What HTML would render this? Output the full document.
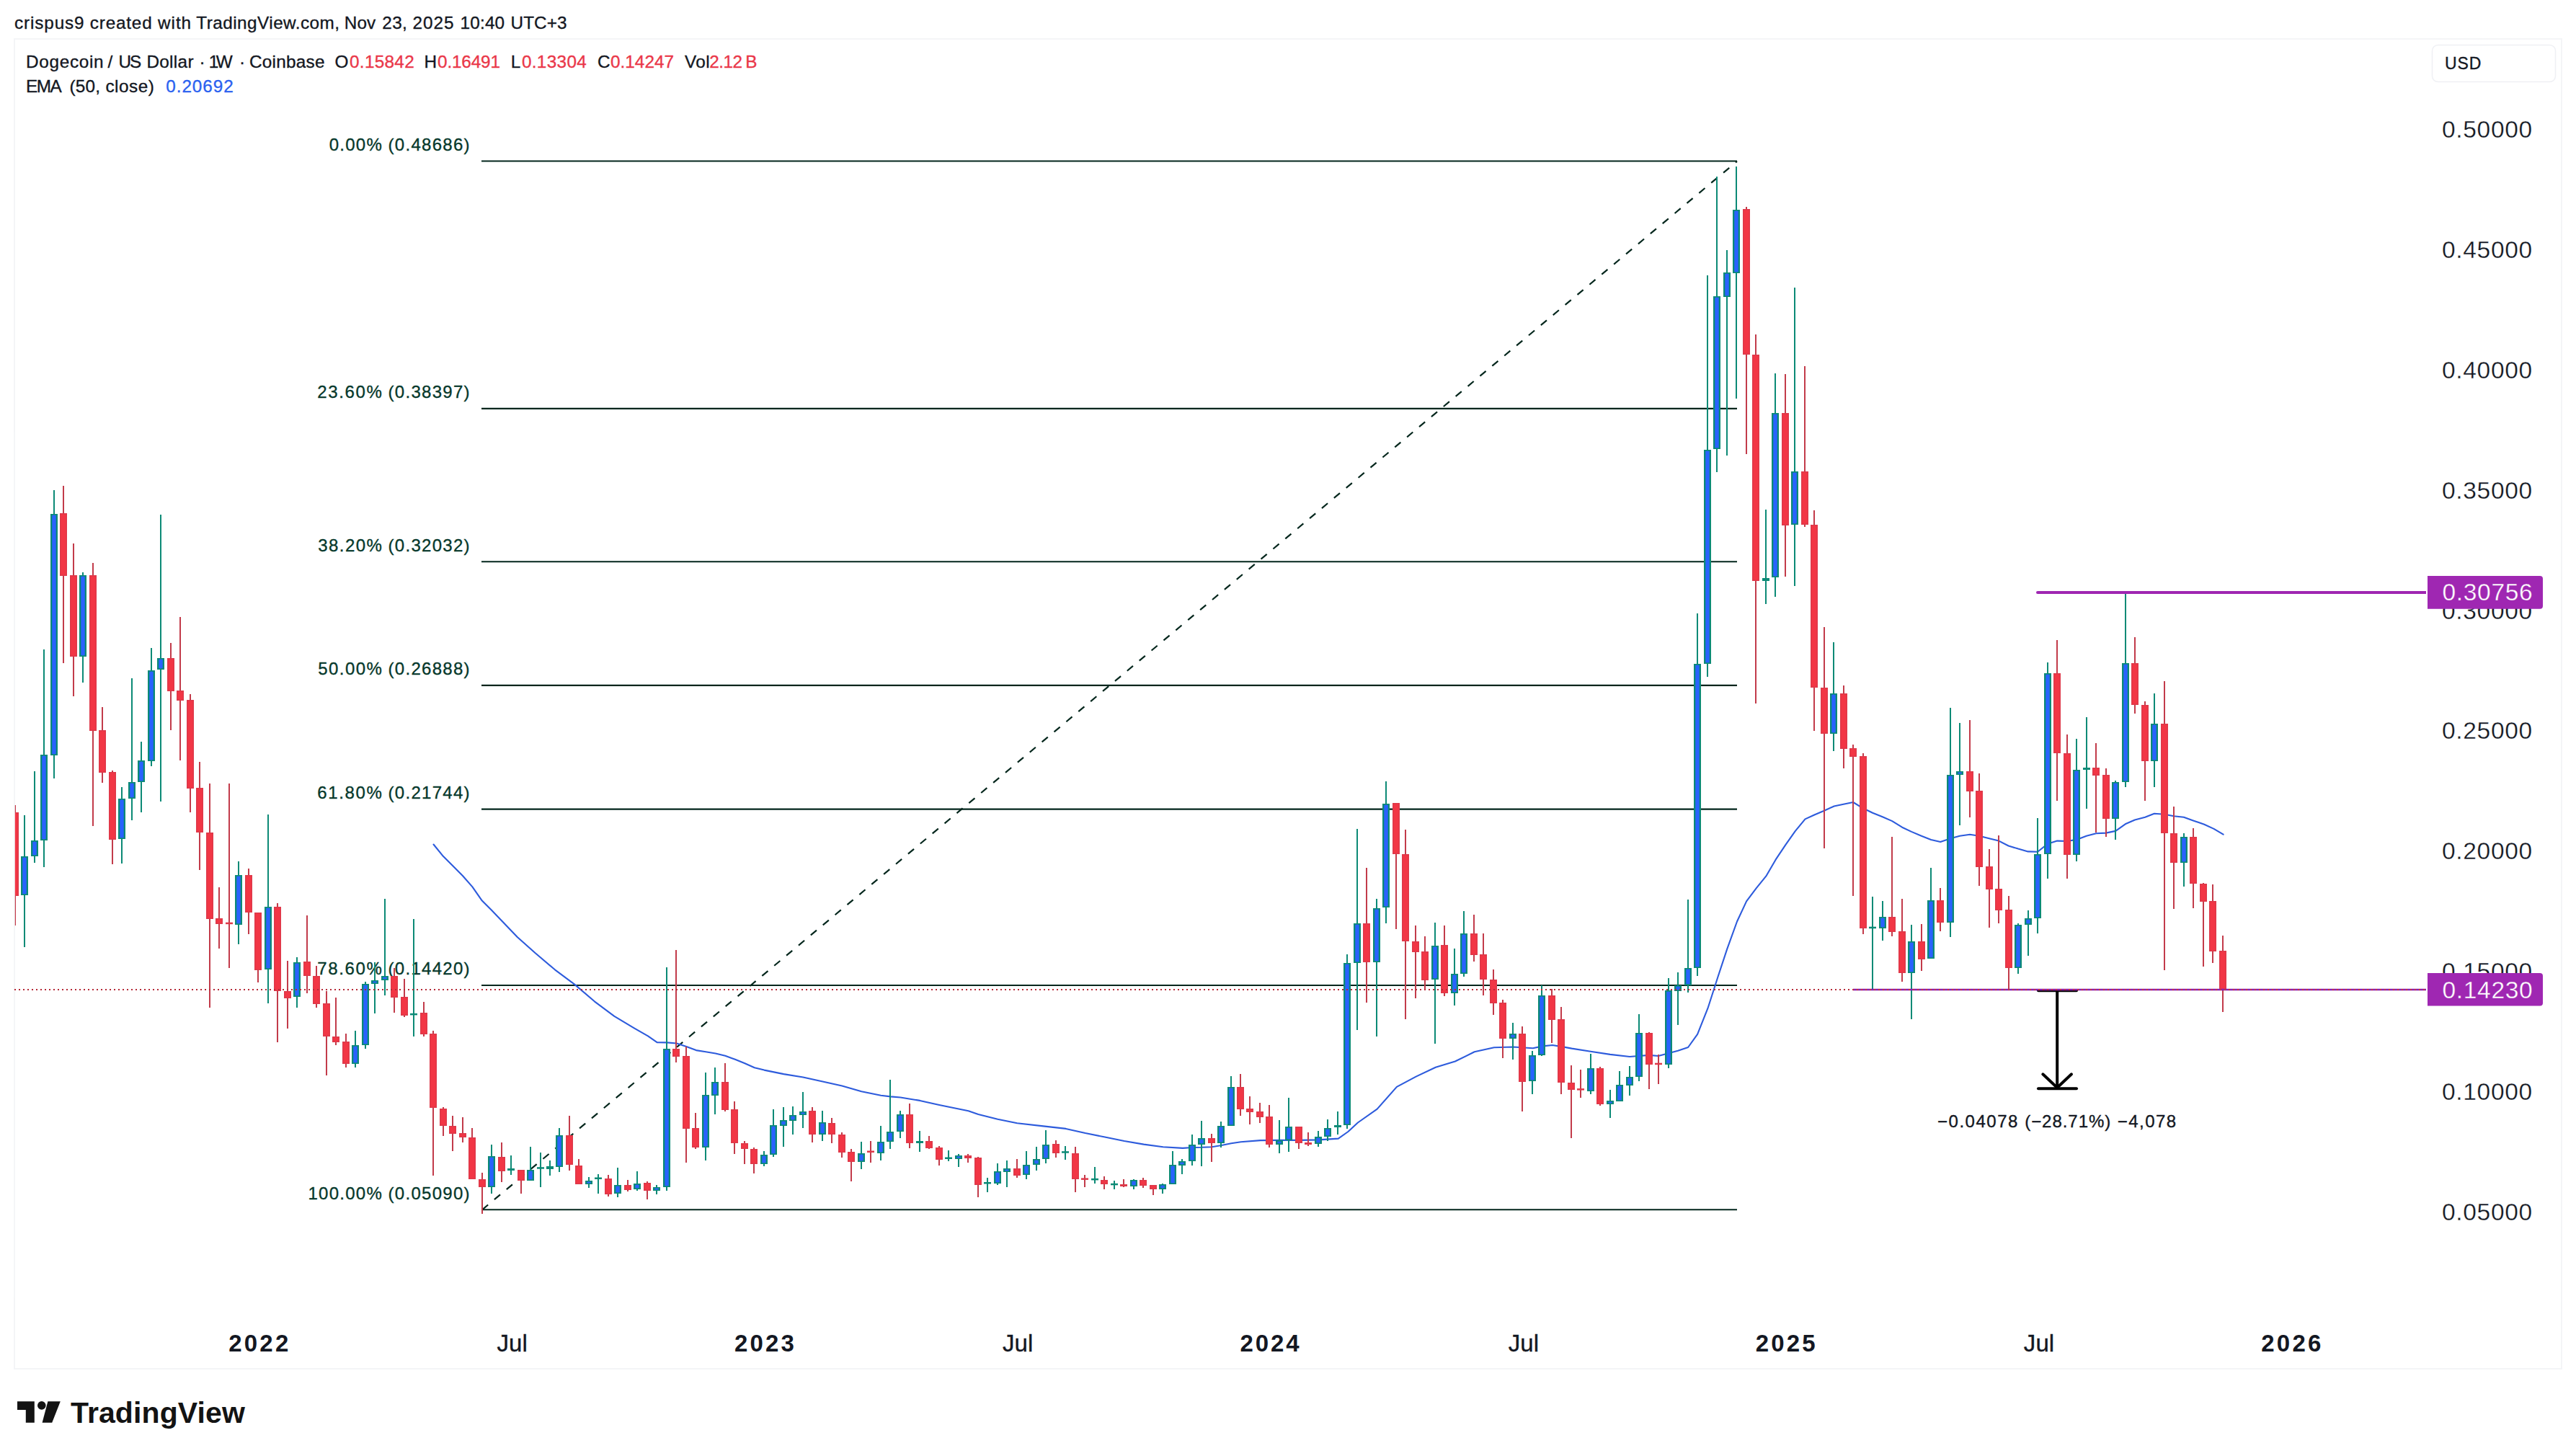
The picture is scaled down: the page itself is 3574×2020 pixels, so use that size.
<!DOCTYPE html>
<html lang="en"><head><meta charset="utf-8"><title>DOGEUSD chart</title>
<style>html,body{margin:0;padding:0;background:#fff}body{width:3574px;height:2020px;overflow:hidden}svg{display:block}</style>
</head><body>
<svg width="3574" height="2020" viewBox="0 0 3574 2020" font-family='"Liberation Sans", sans-serif'>
<rect width="3574" height="2020" fill="#ffffff"/>
<rect x="20" y="54" width="3534" height="1845" fill="none" stroke="#f4f5f7" stroke-width="2"/>
<text x="20.00" y="39.7" font-size="24.3" fill="#131722" stroke="#131722" stroke-width="0.35" letter-spacing="0.877">crispus9</text>
<text x="124.80" y="39.7" font-size="24.3" fill="#131722" stroke="#131722" stroke-width="0.35" letter-spacing="0.812">created</text>
<text x="219.00" y="39.7" font-size="24.3" fill="#131722" stroke="#131722" stroke-width="0.35" letter-spacing="0.968">with</text>
<text x="272.30" y="39.7" font-size="24.3" fill="#131722" stroke="#131722" stroke-width="0.35" letter-spacing="0.466">TradingView.com,</text>
<text x="477.80" y="39.7" font-size="24.3" fill="#131722" stroke="#131722" stroke-width="0.35" letter-spacing="0.070">Nov</text>
<text x="530.30" y="39.7" font-size="24.3" fill="#131722" stroke="#131722" stroke-width="0.35" letter-spacing="0.337">23,</text>
<text x="572.50" y="39.7" font-size="24.3" fill="#131722" stroke="#131722" stroke-width="0.35" letter-spacing="0.987">2025</text>
<text x="638.50" y="39.7" font-size="24.3" fill="#131722" stroke="#131722" stroke-width="0.35" letter-spacing="0.203">10:40</text>
<text x="708.50" y="39.7" font-size="24.3" fill="#131722" stroke="#131722" stroke-width="0.35" letter-spacing="0.094">UTC+3</text>
<text x="36.10" y="93.8" font-size="24.3" fill="#131722" stroke="#131722" stroke-width="0.35" letter-spacing="0.679">Dogecoin</text>
<text x="149.60" y="93.8" font-size="24.3" fill="#131722" stroke="#131722" stroke-width="0.35">/</text>
<text x="164.40" y="93.8" font-size="24.3" fill="#131722" stroke="#131722" stroke-width="0.35" letter-spacing="-1.846">US</text>
<text x="203.40" y="93.8" font-size="24.3" fill="#131722" stroke="#131722" stroke-width="0.35" letter-spacing="0.326">Dollar</text>
<text x="276.60" y="93.8" font-size="24.3" fill="#131722" stroke="#131722" stroke-width="0.35">·</text>
<text x="289.80" y="93.8" font-size="24.3" fill="#131722" stroke="#131722" stroke-width="0.35" letter-spacing="-3.513">1W</text>
<text x="332.00" y="93.8" font-size="24.3" fill="#131722" stroke="#131722" stroke-width="0.35">·</text>
<text x="346.00" y="93.8" font-size="24.3" fill="#131722" stroke="#131722" stroke-width="0.35" letter-spacing="0.265">Coinbase</text>
<text x="464.50" y="93.8" font-size="24.3" fill="#131722" stroke="#131722" stroke-width="0.35">O</text>
<text x="485.00" y="93.8" font-size="24.3" fill="#ea3749" stroke="#ea3749" stroke-width="0.35" letter-spacing="0.314">0.15842</text>
<text x="588.60" y="93.8" font-size="24.3" fill="#131722" stroke="#131722" stroke-width="0.35">H</text>
<text x="607.10" y="93.8" font-size="24.3" fill="#ea3749" stroke="#ea3749" stroke-width="0.35" letter-spacing="-0.169">0.16491</text>
<text x="708.80" y="93.8" font-size="24.3" fill="#131722" stroke="#131722" stroke-width="0.35">L</text>
<text x="723.90" y="93.8" font-size="24.3" fill="#ea3749" stroke="#ea3749" stroke-width="0.35" letter-spacing="0.348">0.13304</text>
<text x="829.00" y="93.8" font-size="24.3" fill="#131722" stroke="#131722" stroke-width="0.35">C</text>
<text x="847.10" y="93.8" font-size="24.3" fill="#ea3749" stroke="#ea3749" stroke-width="0.35">0.14247</text>
<text x="950.00" y="93.8" font-size="24.3" fill="#131722" stroke="#131722" stroke-width="0.35" letter-spacing="0.411">Vol</text>
<text x="984.30" y="93.8" font-size="24.3" fill="#ea3749" stroke="#ea3749" stroke-width="0.35" letter-spacing="-0.559">2.12</text>
<text x="1034.30" y="93.8" font-size="24.3" fill="#ea3749" stroke="#ea3749" stroke-width="0.35">B</text>
<text x="36.10" y="127.7" font-size="24.3" fill="#131722" stroke="#131722" stroke-width="0.35" letter-spacing="-1.573">EMA</text>
<text x="96.50" y="127.7" font-size="24.3" fill="#131722" stroke="#131722" stroke-width="0.35" letter-spacing="0.194">(50,</text>
<text x="146.40" y="127.7" font-size="24.3" fill="#131722" stroke="#131722" stroke-width="0.35" letter-spacing="0.516">close)</text>
<text x="230.30" y="127.7" font-size="24.3" fill="#2b62f0" stroke="#2b62f0" stroke-width="0.35" letter-spacing="0.931">0.20692</text>
<rect x="3374.5" y="62.5" width="171" height="51" rx="8" fill="#ffffff" stroke="#eff0f4" stroke-width="1.5"/>
<text x="3392.10" y="95.6" font-size="23" fill="#131722" stroke="#131722" stroke-width="0.35" letter-spacing="0.825">USD</text>
<text x="3388.00" y="191.1" font-size="33.5" fill="#131722" stroke="#ffffff" stroke-width="0.3" letter-spacing="0.673">0.50000</text>
<text x="3388.00" y="357.9" font-size="33.5" fill="#131722" stroke="#ffffff" stroke-width="0.3" letter-spacing="0.673">0.45000</text>
<text x="3388.00" y="524.8" font-size="33.5" fill="#131722" stroke="#ffffff" stroke-width="0.3" letter-spacing="0.673">0.40000</text>
<text x="3388.00" y="691.6" font-size="33.5" fill="#131722" stroke="#ffffff" stroke-width="0.3" letter-spacing="0.673">0.35000</text>
<text x="3388.00" y="858.5" font-size="33.5" fill="#131722" stroke="#ffffff" stroke-width="0.3" letter-spacing="0.673">0.30000</text>
<text x="3388.00" y="1025.4" font-size="33.5" fill="#131722" stroke="#ffffff" stroke-width="0.3" letter-spacing="0.673">0.25000</text>
<text x="3388.00" y="1192.2" font-size="33.5" fill="#131722" stroke="#ffffff" stroke-width="0.3" letter-spacing="0.673">0.20000</text>
<text x="3388.00" y="1359.1" font-size="33.5" fill="#131722" stroke="#ffffff" stroke-width="0.3" letter-spacing="0.673">0.15000</text>
<text x="3388.00" y="1525.9" font-size="33.5" fill="#131722" stroke="#ffffff" stroke-width="0.3" letter-spacing="0.673">0.10000</text>
<text x="3388.00" y="1692.8" font-size="33.5" fill="#131722" stroke="#ffffff" stroke-width="0.3" letter-spacing="0.673">0.05000</text>
<text x="317.30" y="1875.2" font-size="33" fill="#131722" font-weight="bold" letter-spacing="3.180">2022</text>
<text x="689.42" y="1875.2" font-size="33" fill="#131722" stroke="#131722" stroke-width="0.35" letter-spacing="0.073">Jul</text>
<text x="1018.94" y="1875.2" font-size="33" fill="#131722" font-weight="bold" letter-spacing="3.180">2023</text>
<text x="1391.06" y="1875.2" font-size="33" fill="#131722" stroke="#131722" stroke-width="0.35" letter-spacing="0.073">Jul</text>
<text x="1720.58" y="1875.2" font-size="33" fill="#131722" font-weight="bold" letter-spacing="2.847">2024</text>
<text x="2092.70" y="1875.2" font-size="33" fill="#131722" stroke="#131722" stroke-width="0.35" letter-spacing="0.073">Jul</text>
<text x="2435.71" y="1875.2" font-size="33" fill="#131722" font-weight="bold" letter-spacing="3.180">2025</text>
<text x="2807.82" y="1875.2" font-size="33" fill="#131722" stroke="#131722" stroke-width="0.35" letter-spacing="0.073">Jul</text>
<text x="3137.34" y="1875.2" font-size="33" fill="#131722" font-weight="bold" letter-spacing="3.180">2026</text>
<line x1="668" y1="223.5" x2="2410" y2="223.5" stroke="#03261c" stroke-width="2.1"/>
<line x1="668" y1="566.9" x2="2410" y2="566.9" stroke="#03261c" stroke-width="2.1"/>
<line x1="668" y1="779.3" x2="2410" y2="779.3" stroke="#03261c" stroke-width="2.1"/>
<line x1="668" y1="950.9" x2="2410" y2="950.9" stroke="#03261c" stroke-width="2.1"/>
<line x1="668" y1="1122.6" x2="2410" y2="1122.6" stroke="#03261c" stroke-width="2.1"/>
<line x1="668" y1="1367.0" x2="2410" y2="1367.0" stroke="#03261c" stroke-width="2.1"/>
<line x1="668" y1="1678.3" x2="2410" y2="1678.3" stroke="#03261c" stroke-width="2.1"/>
<line x1="669.0" y1="1678.3" x2="2410" y2="223.8" stroke="#03261c" stroke-width="2.2" stroke-dasharray="10.6 11.4"/>
<text x="456.70" y="208.9" font-size="24" fill="#06382b" stroke="#06382b" stroke-width="0.35" letter-spacing="1.247">0.00%</text>
<text x="538.50" y="208.9" font-size="24" fill="#06382b" stroke="#06382b" stroke-width="0.35" letter-spacing="1.294">(0.48686)</text>
<text x="440.30" y="552.3" font-size="24" fill="#06382b" stroke="#06382b" stroke-width="0.35" letter-spacing="1.608">23.60%</text>
<text x="538.50" y="552.3" font-size="24" fill="#06382b" stroke="#06382b" stroke-width="0.35" letter-spacing="1.294">(0.38397)</text>
<text x="441.30" y="764.7" font-size="24" fill="#06382b" stroke="#06382b" stroke-width="0.35" letter-spacing="1.408">38.20%</text>
<text x="538.50" y="764.7" font-size="24" fill="#06382b" stroke="#06382b" stroke-width="0.35" letter-spacing="1.294">(0.32032)</text>
<text x="441.30" y="936.3" font-size="24" fill="#06382b" stroke="#06382b" stroke-width="0.35" letter-spacing="1.408">50.00%</text>
<text x="538.50" y="936.3" font-size="24" fill="#06382b" stroke="#06382b" stroke-width="0.35" letter-spacing="1.294">(0.26888)</text>
<text x="440.30" y="1108.0" font-size="24" fill="#06382b" stroke="#06382b" stroke-width="0.35" letter-spacing="1.608">61.80%</text>
<text x="538.50" y="1108.0" font-size="24" fill="#06382b" stroke="#06382b" stroke-width="0.35" letter-spacing="1.294">(0.21744)</text>
<text x="440.30" y="1352.4" font-size="24" fill="#06382b" stroke="#06382b" stroke-width="0.35" letter-spacing="1.608">78.60%</text>
<text x="538.50" y="1352.4" font-size="24" fill="#06382b" stroke="#06382b" stroke-width="0.35" letter-spacing="1.294">(0.14420)</text>
<text x="427.50" y="1663.7" font-size="24" fill="#06382b" stroke="#06382b" stroke-width="0.35" letter-spacing="1.249">100.00%</text>
<text x="538.50" y="1663.7" font-size="24" fill="#06382b" stroke="#06382b" stroke-width="0.35" letter-spacing="1.294">(0.05090)</text>
<polyline fill="none" stroke="#2d5bdc" stroke-width="2.1" stroke-linejoin="round" stroke-linecap="round" points="601.5,1171.5 615.0,1188.1 628.5,1201.5 641.9,1215.0 655.4,1230.4 668.8,1249.6 682.3,1263.1 700.0,1281.5 717.7,1300.0 742.4,1322.0 769.9,1345.3 797.4,1365.9 824.8,1389.3 852.3,1409.9 879.8,1426.4 899.0,1437.4 911.6,1446.2 925.4,1446.4 938.8,1447.5 952.3,1451.9 965.8,1457.1 979.2,1459.3 992.7,1461.5 1006.2,1464.8 1019.9,1469.8 1033.4,1475.3 1046.8,1481.3 1060.3,1484.6 1087.3,1490.1 1114.2,1494.5 1141.4,1500.5 1168.3,1506.6 1195.2,1514.3 1222.1,1519.8 1235.6,1521.4 1249.3,1522.5 1276.3,1526.9 1303.2,1533.0 1330.1,1538.5 1343.6,1541.2 1357.3,1545.9 1384.2,1552.7 1411.2,1558.2 1447.5,1562.4 1478.8,1565.9 1505.7,1572.0 1532.9,1577.5 1559.8,1583.0 1586.8,1587.6 1613.7,1591.2 1640.9,1592.9 1654.3,1592.0 1667.8,1591.8 1681.3,1591.2 1694.7,1589.0 1708.2,1586.3 1721.6,1584.3 1748.8,1582.1 1775.8,1581.9 1802.7,1581.9 1829.6,1581.4 1856.8,1579.6 1870.4,1570.0 1883.9,1557.5 1910.7,1538.6 1937.9,1507.9 1964.6,1493.6 1991.8,1480.7 2018.9,1472.5 2045.7,1459.3 2072.9,1453.2 2099.6,1452.5 2126.8,1454.3 2140.4,1451.4 2153.9,1450.0 2167.1,1452.1 2180.7,1454.6 2206.8,1458.8 2233.9,1462.9 2261.0,1466.0 2288.2,1463.9 2300.9,1465.0 2314.9,1461.2 2328.0,1457.8 2342.1,1453.0 2355.1,1434.8 2369.5,1398.7 2383.3,1355.8 2396.3,1316.3 2410.0,1278.5 2423.1,1250.4 2436.8,1232.2 2450.2,1215.7 2463.6,1192.7 2477.3,1172.1 2490.7,1153.2 2504.5,1136.4 2517.9,1130.2 2530.9,1124.7 2544.6,1118.5 2557.7,1115.8 2571.1,1113.0 2584.7,1121.3 2598.1,1127.8 2611.8,1133.3 2625.2,1139.1 2639.0,1147.7 2652.0,1153.9 2665.8,1159.7 2679.1,1164.9 2692.2,1168.0 2706.3,1163.2 2719.0,1159.7 2733.0,1157.7 2746.1,1159.7 2759.8,1163.2 2773.2,1166.6 2786.6,1173.5 2800.0,1177.6 2813.7,1181.4 2827.1,1181.7 2840.9,1170.7 2854.2,1166.6 2868.0,1167.0 2881.0,1164.9 2894.8,1159.7 2908.2,1156.3 2921.9,1155.6 2935.3,1152.9 2948.7,1143.3 2961.9,1137.5 2976.2,1133.8 2988.9,1128.8 3003.2,1129.8 3015.9,1132.2 3029.9,1133.8 3042.9,1138.4 3058.2,1143.7 3071.5,1149.9 3084.6,1157.7"/>
<g shape-rendering="auto">
<rect x="20" y="1117" width="2" height="167" fill="#c23b4a"/>
<rect x="16" y="1127" width="10" height="116" fill="#de394a"/>
<rect x="17.5" y="1128.5" width="7" height="113" fill="#f23645"/>
<rect x="33" y="1131" width="2" height="183" fill="#0c8a76"/>
<rect x="29" y="1188" width="10" height="54" fill="#0c8a76"/>
<rect x="31.3" y="1189.7" width="5.4" height="50.6" fill="#2962ff"/>
<rect x="47" y="1070" width="2" height="127" fill="#0c8a76"/>
<rect x="43" y="1166" width="10" height="22" fill="#0c8a76"/>
<rect x="45.3" y="1167.7" width="5.4" height="18.6" fill="#2962ff"/>
<rect x="60" y="901" width="2" height="302" fill="#0c8a76"/>
<rect x="56" y="1047" width="10" height="119" fill="#0c8a76"/>
<rect x="58.3" y="1048.7" width="5.4" height="115.6" fill="#2962ff"/>
<rect x="74" y="680" width="2" height="400" fill="#0c8a76"/>
<rect x="70" y="713" width="10" height="335" fill="#0c8a76"/>
<rect x="72.3" y="714.7" width="5.4" height="331.6" fill="#2962ff"/>
<rect x="87" y="674" width="2" height="246" fill="#c23b4a"/>
<rect x="83" y="712" width="10" height="87" fill="#de394a"/>
<rect x="84.5" y="713.5" width="7" height="84" fill="#f23645"/>
<rect x="101" y="754" width="2" height="212" fill="#c23b4a"/>
<rect x="97" y="798" width="10" height="113" fill="#de394a"/>
<rect x="98.5" y="799.5" width="7" height="110" fill="#f23645"/>
<rect x="114" y="794" width="2" height="153" fill="#0c8a76"/>
<rect x="110" y="798" width="10" height="113" fill="#0c8a76"/>
<rect x="112.3" y="799.7" width="5.4" height="109.6" fill="#2962ff"/>
<rect x="128" y="781" width="2" height="365" fill="#c23b4a"/>
<rect x="124" y="798" width="10" height="216" fill="#de394a"/>
<rect x="125.5" y="799.5" width="7" height="213" fill="#f23645"/>
<rect x="141" y="981" width="2" height="105" fill="#c23b4a"/>
<rect x="137" y="1013" width="10" height="59" fill="#de394a"/>
<rect x="138.5" y="1014.5" width="7" height="56" fill="#f23645"/>
<rect x="155" y="1069" width="2" height="130" fill="#c23b4a"/>
<rect x="151" y="1071" width="10" height="94" fill="#de394a"/>
<rect x="152.5" y="1072.5" width="7" height="91" fill="#f23645"/>
<rect x="168" y="1092" width="2" height="106" fill="#0c8a76"/>
<rect x="164" y="1108" width="10" height="56" fill="#0c8a76"/>
<rect x="166.3" y="1109.7" width="5.4" height="52.6" fill="#2962ff"/>
<rect x="182" y="941" width="2" height="197" fill="#0c8a76"/>
<rect x="178" y="1085" width="10" height="23" fill="#0c8a76"/>
<rect x="180.3" y="1086.7" width="5.4" height="19.6" fill="#2962ff"/>
<rect x="195" y="1029" width="2" height="98" fill="#0c8a76"/>
<rect x="191" y="1055" width="10" height="30" fill="#0c8a76"/>
<rect x="193.3" y="1056.7" width="5.4" height="26.6" fill="#2962ff"/>
<rect x="209" y="899" width="2" height="164" fill="#0c8a76"/>
<rect x="205" y="930" width="10" height="126" fill="#0c8a76"/>
<rect x="207.3" y="931.7" width="5.4" height="122.6" fill="#2962ff"/>
<rect x="222" y="714" width="2" height="398" fill="#0c8a76"/>
<rect x="218" y="913" width="10" height="16" fill="#0c8a76"/>
<rect x="220.3" y="914.7" width="5.4" height="12.6" fill="#2962ff"/>
<rect x="236" y="892" width="2" height="121" fill="#c23b4a"/>
<rect x="232" y="913" width="10" height="46" fill="#de394a"/>
<rect x="233.5" y="914.5" width="7" height="43" fill="#f23645"/>
<rect x="249" y="856" width="2" height="199" fill="#c23b4a"/>
<rect x="245" y="958" width="10" height="14" fill="#de394a"/>
<rect x="246.5" y="959.5" width="7" height="11" fill="#f23645"/>
<rect x="263" y="963" width="2" height="164" fill="#c23b4a"/>
<rect x="259" y="971" width="10" height="123" fill="#de394a"/>
<rect x="260.5" y="972.5" width="7" height="120" fill="#f23645"/>
<rect x="276" y="1057" width="2" height="150" fill="#c23b4a"/>
<rect x="272" y="1093" width="10" height="62" fill="#de394a"/>
<rect x="273.5" y="1094.5" width="7" height="59" fill="#f23645"/>
<rect x="290" y="1087" width="2" height="311" fill="#c23b4a"/>
<rect x="286" y="1155" width="10" height="120" fill="#de394a"/>
<rect x="287.5" y="1156.5" width="7" height="117" fill="#f23645"/>
<rect x="303" y="1231" width="2" height="85" fill="#c23b4a"/>
<rect x="299" y="1274" width="10" height="8" fill="#de394a"/>
<rect x="300.5" y="1275.5" width="7" height="5" fill="#f23645"/>
<rect x="317" y="1087" width="2" height="256" fill="#c23b4a"/>
<rect x="313" y="1279.7" width="10" height="2.5" fill="#de394a"/>
<rect x="330" y="1195" width="2" height="115" fill="#0c8a76"/>
<rect x="326" y="1214" width="10" height="69" fill="#0c8a76"/>
<rect x="328.3" y="1215.7" width="5.4" height="65.6" fill="#2962ff"/>
<rect x="344" y="1205" width="2" height="91" fill="#c23b4a"/>
<rect x="340" y="1214" width="10" height="52" fill="#de394a"/>
<rect x="341.5" y="1215.5" width="7" height="49" fill="#f23645"/>
<rect x="357" y="1266" width="2" height="97" fill="#c23b4a"/>
<rect x="353" y="1266" width="10" height="80" fill="#de394a"/>
<rect x="354.5" y="1267.5" width="7" height="77" fill="#f23645"/>
<rect x="371" y="1130" width="2" height="262" fill="#0c8a76"/>
<rect x="367" y="1258" width="10" height="87" fill="#0c8a76"/>
<rect x="369.3" y="1259.7" width="5.4" height="83.6" fill="#2962ff"/>
<rect x="384" y="1253" width="2" height="193" fill="#c23b4a"/>
<rect x="380" y="1258" width="10" height="117" fill="#de394a"/>
<rect x="381.5" y="1259.5" width="7" height="114" fill="#f23645"/>
<rect x="398" y="1333" width="2" height="94" fill="#c23b4a"/>
<rect x="394" y="1375" width="10" height="10" fill="#de394a"/>
<rect x="395.5" y="1376.5" width="7" height="7" fill="#f23645"/>
<rect x="411" y="1328" width="2" height="70" fill="#0c8a76"/>
<rect x="407" y="1335" width="10" height="48" fill="#0c8a76"/>
<rect x="409.3" y="1336.7" width="5.4" height="44.6" fill="#2962ff"/>
<rect x="425" y="1270" width="2" height="108" fill="#c23b4a"/>
<rect x="421" y="1334" width="10" height="20" fill="#de394a"/>
<rect x="422.5" y="1335.5" width="7" height="17" fill="#f23645"/>
<rect x="438" y="1340" width="2" height="58" fill="#c23b4a"/>
<rect x="434" y="1354" width="10" height="39" fill="#de394a"/>
<rect x="435.5" y="1355.5" width="7" height="36" fill="#f23645"/>
<rect x="452" y="1375" width="2" height="117" fill="#c23b4a"/>
<rect x="448" y="1392" width="10" height="46" fill="#de394a"/>
<rect x="449.5" y="1393.5" width="7" height="43" fill="#f23645"/>
<rect x="465" y="1384" width="2" height="66" fill="#c23b4a"/>
<rect x="461" y="1438" width="10" height="8" fill="#de394a"/>
<rect x="462.5" y="1439.5" width="7" height="5" fill="#f23645"/>
<rect x="479" y="1434" width="2" height="47" fill="#c23b4a"/>
<rect x="475" y="1445" width="10" height="31" fill="#de394a"/>
<rect x="476.5" y="1446.5" width="7" height="28" fill="#f23645"/>
<rect x="492" y="1430" width="2" height="51" fill="#0c8a76"/>
<rect x="488" y="1450" width="10" height="26" fill="#0c8a76"/>
<rect x="490.3" y="1451.7" width="5.4" height="22.6" fill="#2962ff"/>
<rect x="506" y="1362" width="2" height="93" fill="#0c8a76"/>
<rect x="502" y="1365" width="10" height="85" fill="#0c8a76"/>
<rect x="504.3" y="1366.7" width="5.4" height="81.6" fill="#2962ff"/>
<rect x="519" y="1335" width="2" height="71" fill="#0c8a76"/>
<rect x="515" y="1360" width="10" height="5" fill="#0c8a76"/>
<rect x="517.3" y="1361.5" width="5.4" height="2" fill="#2962ff"/>
<rect x="533" y="1247" width="2" height="134" fill="#0c8a76"/>
<rect x="529" y="1354" width="10" height="6" fill="#0c8a76"/>
<rect x="531.3" y="1355.7" width="5.4" height="2.6" fill="#2962ff"/>
<rect x="546" y="1343" width="2" height="62" fill="#c23b4a"/>
<rect x="542" y="1354" width="10" height="30" fill="#de394a"/>
<rect x="543.5" y="1355.5" width="7" height="27" fill="#f23645"/>
<rect x="560" y="1358" width="2" height="53" fill="#c23b4a"/>
<rect x="556" y="1383" width="10" height="26" fill="#de394a"/>
<rect x="557.5" y="1384.5" width="7" height="23" fill="#f23645"/>
<rect x="573" y="1275" width="2" height="163" fill="#0c8a76"/>
<rect x="569" y="1405.9" width="10" height="2.5" fill="#0c8a76"/>
<rect x="587" y="1390" width="2" height="48" fill="#c23b4a"/>
<rect x="583" y="1405" width="10" height="30" fill="#de394a"/>
<rect x="584.5" y="1406.5" width="7" height="27" fill="#f23645"/>
<rect x="600" y="1430" width="2" height="201" fill="#c23b4a"/>
<rect x="596" y="1434" width="10" height="103" fill="#de394a"/>
<rect x="597.5" y="1435.5" width="7" height="100" fill="#f23645"/>
<rect x="614" y="1536" width="2" height="40" fill="#c23b4a"/>
<rect x="610" y="1538" width="10" height="24" fill="#de394a"/>
<rect x="611.5" y="1539.5" width="7" height="21" fill="#f23645"/>
<rect x="627" y="1548" width="2" height="49" fill="#c23b4a"/>
<rect x="623" y="1562" width="10" height="11" fill="#de394a"/>
<rect x="624.5" y="1563.5" width="7" height="8" fill="#f23645"/>
<rect x="641" y="1550" width="2" height="35" fill="#c23b4a"/>
<rect x="637" y="1572" width="10" height="6" fill="#de394a"/>
<rect x="638.5" y="1573.5" width="7" height="3" fill="#f23645"/>
<rect x="654" y="1565" width="2" height="71" fill="#c23b4a"/>
<rect x="650" y="1578" width="10" height="58" fill="#de394a"/>
<rect x="651.5" y="1579.5" width="7" height="55" fill="#f23645"/>
<rect x="668" y="1627" width="2" height="57" fill="#c23b4a"/>
<rect x="664" y="1636" width="10" height="11" fill="#de394a"/>
<rect x="665.5" y="1637.5" width="7" height="8" fill="#f23645"/>
<rect x="681" y="1588" width="2" height="68" fill="#0c8a76"/>
<rect x="677" y="1604" width="10" height="43" fill="#0c8a76"/>
<rect x="679.3" y="1605.7" width="5.4" height="39.6" fill="#2962ff"/>
<rect x="695" y="1585" width="2" height="55" fill="#c23b4a"/>
<rect x="691" y="1605" width="10" height="20" fill="#de394a"/>
<rect x="692.5" y="1606.5" width="7" height="17" fill="#f23645"/>
<rect x="708" y="1603" width="2" height="27" fill="#0c8a76"/>
<rect x="704" y="1621" width="10" height="3" fill="#0c8a76"/>
<rect x="722" y="1623" width="2" height="33" fill="#c23b4a"/>
<rect x="718" y="1623" width="10" height="15" fill="#de394a"/>
<rect x="719.5" y="1624.5" width="7" height="12" fill="#f23645"/>
<rect x="735" y="1591" width="2" height="47" fill="#0c8a76"/>
<rect x="731" y="1623" width="10" height="15" fill="#0c8a76"/>
<rect x="733.3" y="1624.7" width="5.4" height="11.6" fill="#2962ff"/>
<rect x="749" y="1599" width="2" height="48" fill="#0c8a76"/>
<rect x="745" y="1619.2" width="10" height="2.5" fill="#0c8a76"/>
<rect x="762" y="1610" width="2" height="21" fill="#0c8a76"/>
<rect x="758" y="1618" width="10" height="4" fill="#0c8a76"/>
<rect x="775" y="1565" width="2" height="61" fill="#0c8a76"/>
<rect x="771" y="1575" width="10" height="44" fill="#0c8a76"/>
<rect x="773.3" y="1576.7" width="5.4" height="40.6" fill="#2962ff"/>
<rect x="789" y="1548" width="2" height="76" fill="#c23b4a"/>
<rect x="785" y="1575" width="10" height="41" fill="#de394a"/>
<rect x="786.5" y="1576.5" width="7" height="38" fill="#f23645"/>
<rect x="802" y="1608" width="2" height="35" fill="#c23b4a"/>
<rect x="798" y="1617" width="10" height="26" fill="#de394a"/>
<rect x="799.5" y="1618.5" width="7" height="23" fill="#f23645"/>
<rect x="816" y="1633" width="2" height="15" fill="#0c8a76"/>
<rect x="812" y="1638" width="10" height="5" fill="#0c8a76"/>
<rect x="814.3" y="1639.5" width="5.4" height="2" fill="#2962ff"/>
<rect x="829" y="1629" width="2" height="27" fill="#0c8a76"/>
<rect x="825" y="1633.5" width="10" height="2.5" fill="#0c8a76"/>
<rect x="843" y="1630" width="2" height="30" fill="#c23b4a"/>
<rect x="839" y="1635" width="10" height="22" fill="#de394a"/>
<rect x="840.5" y="1636.5" width="7" height="19" fill="#f23645"/>
<rect x="856" y="1620" width="2" height="41" fill="#0c8a76"/>
<rect x="852" y="1644" width="10" height="12" fill="#0c8a76"/>
<rect x="854.3" y="1645.7" width="5.4" height="8.6" fill="#2962ff"/>
<rect x="870" y="1637" width="2" height="16" fill="#c23b4a"/>
<rect x="866" y="1644" width="10" height="7" fill="#de394a"/>
<rect x="867.5" y="1645.5" width="7" height="4" fill="#f23645"/>
<rect x="883" y="1625" width="2" height="27" fill="#0c8a76"/>
<rect x="879" y="1642" width="10" height="8" fill="#0c8a76"/>
<rect x="881.3" y="1643.7" width="5.4" height="4.6" fill="#2962ff"/>
<rect x="897" y="1639" width="2" height="25" fill="#c23b4a"/>
<rect x="893" y="1641" width="10" height="11" fill="#de394a"/>
<rect x="894.5" y="1642.5" width="7" height="8" fill="#f23645"/>
<rect x="910" y="1644" width="2" height="13" fill="#0c8a76"/>
<rect x="906" y="1647" width="10" height="5" fill="#0c8a76"/>
<rect x="908.3" y="1648.5" width="5.4" height="2" fill="#2962ff"/>
<rect x="924" y="1342" width="2" height="310" fill="#0c8a76"/>
<rect x="920" y="1455" width="10" height="192" fill="#0c8a76"/>
<rect x="922.3" y="1456.7" width="5.4" height="188.6" fill="#2962ff"/>
<rect x="937" y="1318" width="2" height="156" fill="#c23b4a"/>
<rect x="933" y="1455" width="10" height="11" fill="#de394a"/>
<rect x="934.5" y="1456.5" width="7" height="8" fill="#f23645"/>
<rect x="951" y="1452" width="2" height="161" fill="#c23b4a"/>
<rect x="947" y="1465" width="10" height="101" fill="#de394a"/>
<rect x="948.5" y="1466.5" width="7" height="98" fill="#f23645"/>
<rect x="964" y="1544" width="2" height="50" fill="#c23b4a"/>
<rect x="960" y="1565" width="10" height="27" fill="#de394a"/>
<rect x="961.5" y="1566.5" width="7" height="24" fill="#f23645"/>
<rect x="978" y="1488" width="2" height="122" fill="#0c8a76"/>
<rect x="974" y="1519" width="10" height="73" fill="#0c8a76"/>
<rect x="976.3" y="1520.7" width="5.4" height="69.6" fill="#2962ff"/>
<rect x="991" y="1481" width="2" height="65" fill="#0c8a76"/>
<rect x="987" y="1501" width="10" height="19" fill="#0c8a76"/>
<rect x="989.3" y="1502.7" width="5.4" height="15.6" fill="#2962ff"/>
<rect x="1005" y="1475" width="2" height="67" fill="#c23b4a"/>
<rect x="1001" y="1501" width="10" height="39" fill="#de394a"/>
<rect x="1002.5" y="1502.5" width="7" height="36" fill="#f23645"/>
<rect x="1018" y="1528" width="2" height="73" fill="#c23b4a"/>
<rect x="1014" y="1539" width="10" height="47" fill="#de394a"/>
<rect x="1015.5" y="1540.5" width="7" height="44" fill="#f23645"/>
<rect x="1032" y="1583" width="2" height="32" fill="#c23b4a"/>
<rect x="1028" y="1586" width="10" height="8" fill="#de394a"/>
<rect x="1029.5" y="1587.5" width="7" height="5" fill="#f23645"/>
<rect x="1045" y="1592" width="2" height="36" fill="#c23b4a"/>
<rect x="1041" y="1594" width="10" height="21" fill="#de394a"/>
<rect x="1042.5" y="1595.5" width="7" height="18" fill="#f23645"/>
<rect x="1059" y="1597" width="2" height="21" fill="#0c8a76"/>
<rect x="1055" y="1602" width="10" height="13" fill="#0c8a76"/>
<rect x="1057.3" y="1603.7" width="5.4" height="9.6" fill="#2962ff"/>
<rect x="1072" y="1539" width="2" height="66" fill="#0c8a76"/>
<rect x="1068" y="1561" width="10" height="41" fill="#0c8a76"/>
<rect x="1070.3" y="1562.7" width="5.4" height="37.6" fill="#2962ff"/>
<rect x="1086" y="1536" width="2" height="55" fill="#0c8a76"/>
<rect x="1082" y="1554" width="10" height="8" fill="#0c8a76"/>
<rect x="1084.3" y="1555.7" width="5.4" height="4.6" fill="#2962ff"/>
<rect x="1099" y="1535" width="2" height="39" fill="#0c8a76"/>
<rect x="1095" y="1547" width="10" height="8" fill="#0c8a76"/>
<rect x="1097.3" y="1548.7" width="5.4" height="4.6" fill="#2962ff"/>
<rect x="1113" y="1515" width="2" height="50" fill="#0c8a76"/>
<rect x="1109" y="1542" width="10" height="5" fill="#0c8a76"/>
<rect x="1111.3" y="1543.5" width="5.4" height="2" fill="#2962ff"/>
<rect x="1126" y="1536" width="2" height="49" fill="#c23b4a"/>
<rect x="1122" y="1541" width="10" height="33" fill="#de394a"/>
<rect x="1123.5" y="1542.5" width="7" height="30" fill="#f23645"/>
<rect x="1140" y="1541" width="2" height="42" fill="#0c8a76"/>
<rect x="1136" y="1557" width="10" height="17" fill="#0c8a76"/>
<rect x="1138.3" y="1558.7" width="5.4" height="13.6" fill="#2962ff"/>
<rect x="1153" y="1551" width="2" height="35" fill="#c23b4a"/>
<rect x="1149" y="1558" width="10" height="16" fill="#de394a"/>
<rect x="1150.5" y="1559.5" width="7" height="13" fill="#f23645"/>
<rect x="1167" y="1571" width="2" height="35" fill="#c23b4a"/>
<rect x="1163" y="1574" width="10" height="25" fill="#de394a"/>
<rect x="1164.5" y="1575.5" width="7" height="22" fill="#f23645"/>
<rect x="1180" y="1594" width="2" height="45" fill="#c23b4a"/>
<rect x="1176" y="1598" width="10" height="14" fill="#de394a"/>
<rect x="1177.5" y="1599.5" width="7" height="11" fill="#f23645"/>
<rect x="1194" y="1584" width="2" height="38" fill="#0c8a76"/>
<rect x="1190" y="1600" width="10" height="12" fill="#0c8a76"/>
<rect x="1192.3" y="1601.7" width="5.4" height="8.6" fill="#2962ff"/>
<rect x="1207" y="1583" width="2" height="30" fill="#c23b4a"/>
<rect x="1203" y="1596.5" width="10" height="2.5" fill="#de394a"/>
<rect x="1221" y="1562" width="2" height="48" fill="#0c8a76"/>
<rect x="1217" y="1584" width="10" height="16" fill="#0c8a76"/>
<rect x="1219.3" y="1585.7" width="5.4" height="12.6" fill="#2962ff"/>
<rect x="1234" y="1498" width="2" height="96" fill="#0c8a76"/>
<rect x="1230" y="1570" width="10" height="14" fill="#0c8a76"/>
<rect x="1232.3" y="1571.7" width="5.4" height="10.6" fill="#2962ff"/>
<rect x="1248" y="1541" width="2" height="38" fill="#0c8a76"/>
<rect x="1244" y="1546" width="10" height="24" fill="#0c8a76"/>
<rect x="1246.3" y="1547.7" width="5.4" height="20.6" fill="#2962ff"/>
<rect x="1261" y="1531" width="2" height="62" fill="#c23b4a"/>
<rect x="1257" y="1546" width="10" height="40" fill="#de394a"/>
<rect x="1258.5" y="1547.5" width="7" height="37" fill="#f23645"/>
<rect x="1275" y="1569" width="2" height="29" fill="#0c8a76"/>
<rect x="1271" y="1583" width="10" height="3" fill="#0c8a76"/>
<rect x="1288" y="1576" width="2" height="18" fill="#c23b4a"/>
<rect x="1284" y="1583" width="10" height="10" fill="#de394a"/>
<rect x="1285.5" y="1584.5" width="7" height="7" fill="#f23645"/>
<rect x="1302" y="1590" width="2" height="27" fill="#c23b4a"/>
<rect x="1298" y="1592" width="10" height="17" fill="#de394a"/>
<rect x="1299.5" y="1593.5" width="7" height="14" fill="#f23645"/>
<rect x="1315" y="1596" width="2" height="15" fill="#0c8a76"/>
<rect x="1311" y="1605.5" width="10" height="2.5" fill="#0c8a76"/>
<rect x="1329" y="1601" width="2" height="18" fill="#0c8a76"/>
<rect x="1325" y="1603" width="10" height="5" fill="#0c8a76"/>
<rect x="1327.3" y="1604.5" width="5.4" height="2" fill="#2962ff"/>
<rect x="1342" y="1601" width="2" height="12" fill="#c23b4a"/>
<rect x="1338" y="1603" width="10" height="4" fill="#de394a"/>
<rect x="1356" y="1605" width="2" height="56" fill="#c23b4a"/>
<rect x="1352" y="1606" width="10" height="38" fill="#de394a"/>
<rect x="1353.5" y="1607.5" width="7" height="35" fill="#f23645"/>
<rect x="1369" y="1634" width="2" height="20" fill="#0c8a76"/>
<rect x="1365" y="1640.0" width="10" height="2.5" fill="#0c8a76"/>
<rect x="1383" y="1614" width="2" height="30" fill="#0c8a76"/>
<rect x="1379" y="1625" width="10" height="17" fill="#0c8a76"/>
<rect x="1381.3" y="1626.7" width="5.4" height="13.6" fill="#2962ff"/>
<rect x="1396" y="1610" width="2" height="37" fill="#0c8a76"/>
<rect x="1392" y="1621" width="10" height="5" fill="#0c8a76"/>
<rect x="1394.3" y="1622.5" width="5.4" height="2" fill="#2962ff"/>
<rect x="1410" y="1608" width="2" height="26" fill="#c23b4a"/>
<rect x="1406" y="1621" width="10" height="10" fill="#de394a"/>
<rect x="1407.5" y="1622.5" width="7" height="7" fill="#f23645"/>
<rect x="1423" y="1597" width="2" height="39" fill="#0c8a76"/>
<rect x="1419" y="1616" width="10" height="14" fill="#0c8a76"/>
<rect x="1421.3" y="1617.7" width="5.4" height="10.6" fill="#2962ff"/>
<rect x="1437" y="1591" width="2" height="33" fill="#0c8a76"/>
<rect x="1433" y="1608" width="10" height="8" fill="#0c8a76"/>
<rect x="1435.3" y="1609.7" width="5.4" height="4.6" fill="#2962ff"/>
<rect x="1450" y="1568" width="2" height="46" fill="#0c8a76"/>
<rect x="1446" y="1588" width="10" height="20" fill="#0c8a76"/>
<rect x="1448.3" y="1589.7" width="5.4" height="16.6" fill="#2962ff"/>
<rect x="1464" y="1582" width="2" height="24" fill="#c23b4a"/>
<rect x="1460" y="1587" width="10" height="13" fill="#de394a"/>
<rect x="1461.5" y="1588.5" width="7" height="10" fill="#f23645"/>
<rect x="1477" y="1590" width="2" height="19" fill="#0c8a76"/>
<rect x="1473" y="1597.2" width="10" height="2.5" fill="#0c8a76"/>
<rect x="1491" y="1591" width="2" height="63" fill="#c23b4a"/>
<rect x="1487" y="1600" width="10" height="36" fill="#de394a"/>
<rect x="1488.5" y="1601.5" width="7" height="33" fill="#f23645"/>
<rect x="1504" y="1630" width="2" height="17" fill="#c23b4a"/>
<rect x="1500" y="1634.4" width="10" height="2.5" fill="#de394a"/>
<rect x="1518" y="1619" width="2" height="23" fill="#0c8a76"/>
<rect x="1514" y="1634.9" width="10" height="2.5" fill="#0c8a76"/>
<rect x="1531" y="1632" width="2" height="18" fill="#c23b4a"/>
<rect x="1527" y="1637" width="10" height="6" fill="#de394a"/>
<rect x="1528.5" y="1638.5" width="7" height="3" fill="#f23645"/>
<rect x="1545" y="1638" width="2" height="12" fill="#0c8a76"/>
<rect x="1541" y="1641.8" width="10" height="2.5" fill="#0c8a76"/>
<rect x="1558" y="1636" width="2" height="11" fill="#c23b4a"/>
<rect x="1554" y="1643" width="10" height="3" fill="#de394a"/>
<rect x="1572" y="1636" width="2" height="14" fill="#0c8a76"/>
<rect x="1568" y="1637" width="10" height="9" fill="#0c8a76"/>
<rect x="1570.3" y="1638.7" width="5.4" height="5.6" fill="#2962ff"/>
<rect x="1585" y="1634" width="2" height="14" fill="#c23b4a"/>
<rect x="1581" y="1637" width="10" height="8" fill="#de394a"/>
<rect x="1582.5" y="1638.5" width="7" height="5" fill="#f23645"/>
<rect x="1599" y="1644" width="2" height="14" fill="#c23b4a"/>
<rect x="1595" y="1644" width="10" height="6" fill="#de394a"/>
<rect x="1596.5" y="1645.5" width="7" height="3" fill="#f23645"/>
<rect x="1612" y="1642" width="2" height="14" fill="#0c8a76"/>
<rect x="1608" y="1643" width="10" height="7" fill="#0c8a76"/>
<rect x="1610.3" y="1644.7" width="5.4" height="3.6" fill="#2962ff"/>
<rect x="1626" y="1597" width="2" height="46" fill="#0c8a76"/>
<rect x="1622" y="1616" width="10" height="27" fill="#0c8a76"/>
<rect x="1624.3" y="1617.7" width="5.4" height="23.6" fill="#2962ff"/>
<rect x="1639" y="1608" width="2" height="21" fill="#0c8a76"/>
<rect x="1635" y="1611" width="10" height="6" fill="#0c8a76"/>
<rect x="1637.3" y="1612.7" width="5.4" height="2.6" fill="#2962ff"/>
<rect x="1653" y="1574" width="2" height="43" fill="#0c8a76"/>
<rect x="1649" y="1588" width="10" height="23" fill="#0c8a76"/>
<rect x="1651.3" y="1589.7" width="5.4" height="19.6" fill="#2962ff"/>
<rect x="1666" y="1555" width="2" height="63" fill="#0c8a76"/>
<rect x="1662" y="1579" width="10" height="9" fill="#0c8a76"/>
<rect x="1664.3" y="1580.7" width="5.4" height="5.6" fill="#2962ff"/>
<rect x="1680" y="1573" width="2" height="39" fill="#c23b4a"/>
<rect x="1676" y="1579" width="10" height="7" fill="#de394a"/>
<rect x="1677.5" y="1580.5" width="7" height="4" fill="#f23645"/>
<rect x="1693" y="1556" width="2" height="36" fill="#0c8a76"/>
<rect x="1689" y="1562" width="10" height="24" fill="#0c8a76"/>
<rect x="1691.3" y="1563.7" width="5.4" height="20.6" fill="#2962ff"/>
<rect x="1707" y="1493" width="2" height="69" fill="#0c8a76"/>
<rect x="1703" y="1508" width="10" height="54" fill="#0c8a76"/>
<rect x="1705.3" y="1509.7" width="5.4" height="50.6" fill="#2962ff"/>
<rect x="1720" y="1490" width="2" height="58" fill="#c23b4a"/>
<rect x="1716" y="1508" width="10" height="31" fill="#de394a"/>
<rect x="1717.5" y="1509.5" width="7" height="28" fill="#f23645"/>
<rect x="1733" y="1521" width="2" height="39" fill="#c23b4a"/>
<rect x="1729" y="1538" width="10" height="5" fill="#de394a"/>
<rect x="1730.5" y="1539.5" width="7" height="2" fill="#f23645"/>
<rect x="1747" y="1530" width="2" height="28" fill="#c23b4a"/>
<rect x="1743" y="1542" width="10" height="8" fill="#de394a"/>
<rect x="1744.5" y="1543.5" width="7" height="5" fill="#f23645"/>
<rect x="1760" y="1533" width="2" height="59" fill="#c23b4a"/>
<rect x="1756" y="1549" width="10" height="39" fill="#de394a"/>
<rect x="1757.5" y="1550.5" width="7" height="36" fill="#f23645"/>
<rect x="1774" y="1554" width="2" height="46" fill="#0c8a76"/>
<rect x="1770" y="1582" width="10" height="6" fill="#0c8a76"/>
<rect x="1772.3" y="1583.7" width="5.4" height="2.6" fill="#2962ff"/>
<rect x="1787" y="1523" width="2" height="75" fill="#0c8a76"/>
<rect x="1783" y="1563" width="10" height="19" fill="#0c8a76"/>
<rect x="1785.3" y="1564.7" width="5.4" height="15.6" fill="#2962ff"/>
<rect x="1801" y="1563" width="2" height="31" fill="#c23b4a"/>
<rect x="1797" y="1563" width="10" height="23" fill="#de394a"/>
<rect x="1798.5" y="1564.5" width="7" height="20" fill="#f23645"/>
<rect x="1814" y="1571" width="2" height="19" fill="#c23b4a"/>
<rect x="1810" y="1585" width="10" height="3" fill="#de394a"/>
<rect x="1828" y="1569" width="2" height="22" fill="#0c8a76"/>
<rect x="1824" y="1577" width="10" height="10" fill="#0c8a76"/>
<rect x="1826.3" y="1578.7" width="5.4" height="6.6" fill="#2962ff"/>
<rect x="1841" y="1553" width="2" height="30" fill="#0c8a76"/>
<rect x="1837" y="1565" width="10" height="12" fill="#0c8a76"/>
<rect x="1839.3" y="1566.7" width="5.4" height="8.6" fill="#2962ff"/>
<rect x="1855" y="1542" width="2" height="32" fill="#0c8a76"/>
<rect x="1851" y="1561" width="10" height="3" fill="#0c8a76"/>
<rect x="1868" y="1324" width="2" height="242" fill="#0c8a76"/>
<rect x="1864" y="1336" width="10" height="225" fill="#0c8a76"/>
<rect x="1866.3" y="1337.7" width="5.4" height="221.6" fill="#2962ff"/>
<rect x="1882" y="1150" width="2" height="279" fill="#0c8a76"/>
<rect x="1878" y="1281" width="10" height="55" fill="#0c8a76"/>
<rect x="1880.3" y="1282.7" width="5.4" height="51.6" fill="#2962ff"/>
<rect x="1895" y="1204" width="2" height="187" fill="#c23b4a"/>
<rect x="1891" y="1281" width="10" height="54" fill="#de394a"/>
<rect x="1892.5" y="1282.5" width="7" height="51" fill="#f23645"/>
<rect x="1909" y="1247" width="2" height="191" fill="#0c8a76"/>
<rect x="1905" y="1260" width="10" height="75" fill="#0c8a76"/>
<rect x="1907.3" y="1261.7" width="5.4" height="71.6" fill="#2962ff"/>
<rect x="1922" y="1084" width="2" height="197" fill="#0c8a76"/>
<rect x="1918" y="1115" width="10" height="144" fill="#0c8a76"/>
<rect x="1920.3" y="1116.7" width="5.4" height="140.6" fill="#2962ff"/>
<rect x="1936" y="1114" width="2" height="175" fill="#c23b4a"/>
<rect x="1932" y="1114" width="10" height="71" fill="#de394a"/>
<rect x="1933.5" y="1115.5" width="7" height="68" fill="#f23645"/>
<rect x="1949" y="1151" width="2" height="263" fill="#c23b4a"/>
<rect x="1945" y="1185" width="10" height="121" fill="#de394a"/>
<rect x="1946.5" y="1186.5" width="7" height="118" fill="#f23645"/>
<rect x="1963" y="1284" width="2" height="101" fill="#c23b4a"/>
<rect x="1959" y="1306" width="10" height="15" fill="#de394a"/>
<rect x="1960.5" y="1307.5" width="7" height="12" fill="#f23645"/>
<rect x="1976" y="1299" width="2" height="74" fill="#c23b4a"/>
<rect x="1972" y="1320" width="10" height="40" fill="#de394a"/>
<rect x="1973.5" y="1321.5" width="7" height="37" fill="#f23645"/>
<rect x="1990" y="1280" width="2" height="168" fill="#0c8a76"/>
<rect x="1986" y="1312" width="10" height="47" fill="#0c8a76"/>
<rect x="1988.3" y="1313.7" width="5.4" height="43.6" fill="#2962ff"/>
<rect x="2003" y="1284" width="2" height="98" fill="#c23b4a"/>
<rect x="1999" y="1311" width="10" height="67" fill="#de394a"/>
<rect x="2000.5" y="1312.5" width="7" height="64" fill="#f23645"/>
<rect x="2017" y="1316" width="2" height="79" fill="#0c8a76"/>
<rect x="2013" y="1351" width="10" height="27" fill="#0c8a76"/>
<rect x="2015.3" y="1352.7" width="5.4" height="23.6" fill="#2962ff"/>
<rect x="2030" y="1264" width="2" height="91" fill="#0c8a76"/>
<rect x="2026" y="1295" width="10" height="56" fill="#0c8a76"/>
<rect x="2028.3" y="1296.7" width="5.4" height="52.6" fill="#2962ff"/>
<rect x="2044" y="1269" width="2" height="65" fill="#c23b4a"/>
<rect x="2040" y="1295" width="10" height="30" fill="#de394a"/>
<rect x="2041.5" y="1296.5" width="7" height="27" fill="#f23645"/>
<rect x="2057" y="1295" width="2" height="86" fill="#c23b4a"/>
<rect x="2053" y="1324" width="10" height="35" fill="#de394a"/>
<rect x="2054.5" y="1325.5" width="7" height="32" fill="#f23645"/>
<rect x="2071" y="1345" width="2" height="63" fill="#c23b4a"/>
<rect x="2067" y="1359" width="10" height="33" fill="#de394a"/>
<rect x="2068.5" y="1360.5" width="7" height="30" fill="#f23645"/>
<rect x="2084" y="1387" width="2" height="81" fill="#c23b4a"/>
<rect x="2080" y="1391" width="10" height="50" fill="#de394a"/>
<rect x="2081.5" y="1392.5" width="7" height="47" fill="#f23645"/>
<rect x="2098" y="1419" width="2" height="51" fill="#0c8a76"/>
<rect x="2094" y="1434" width="10" height="7" fill="#0c8a76"/>
<rect x="2096.3" y="1435.7" width="5.4" height="3.6" fill="#2962ff"/>
<rect x="2111" y="1424" width="2" height="118" fill="#c23b4a"/>
<rect x="2107" y="1434" width="10" height="67" fill="#de394a"/>
<rect x="2108.5" y="1435.5" width="7" height="64" fill="#f23645"/>
<rect x="2125" y="1458" width="2" height="60" fill="#0c8a76"/>
<rect x="2121" y="1464" width="10" height="36" fill="#0c8a76"/>
<rect x="2123.3" y="1465.7" width="5.4" height="32.6" fill="#2962ff"/>
<rect x="2138" y="1367" width="2" height="98" fill="#0c8a76"/>
<rect x="2134" y="1381" width="10" height="83" fill="#0c8a76"/>
<rect x="2136.3" y="1382.7" width="5.4" height="79.6" fill="#2962ff"/>
<rect x="2152" y="1372" width="2" height="75" fill="#c23b4a"/>
<rect x="2148" y="1381" width="10" height="34" fill="#de394a"/>
<rect x="2149.5" y="1382.5" width="7" height="31" fill="#f23645"/>
<rect x="2165" y="1397" width="2" height="121" fill="#c23b4a"/>
<rect x="2161" y="1414" width="10" height="88" fill="#de394a"/>
<rect x="2162.5" y="1415.5" width="7" height="85" fill="#f23645"/>
<rect x="2179" y="1478" width="2" height="101" fill="#c23b4a"/>
<rect x="2175" y="1502" width="10" height="10" fill="#de394a"/>
<rect x="2176.5" y="1503.5" width="7" height="7" fill="#f23645"/>
<rect x="2192" y="1484" width="2" height="39" fill="#c23b4a"/>
<rect x="2188" y="1510.1" width="10" height="2.5" fill="#de394a"/>
<rect x="2206" y="1462" width="2" height="56" fill="#0c8a76"/>
<rect x="2202" y="1482" width="10" height="32" fill="#0c8a76"/>
<rect x="2204.3" y="1483.7" width="5.4" height="28.6" fill="#2962ff"/>
<rect x="2219" y="1480" width="2" height="54" fill="#c23b4a"/>
<rect x="2215" y="1482" width="10" height="50" fill="#de394a"/>
<rect x="2216.5" y="1483.5" width="7" height="47" fill="#f23645"/>
<rect x="2233" y="1512" width="2" height="39" fill="#0c8a76"/>
<rect x="2229" y="1527" width="10" height="5" fill="#0c8a76"/>
<rect x="2231.3" y="1528.5" width="5.4" height="2" fill="#2962ff"/>
<rect x="2246" y="1486" width="2" height="42" fill="#0c8a76"/>
<rect x="2242" y="1505" width="10" height="23" fill="#0c8a76"/>
<rect x="2244.3" y="1506.7" width="5.4" height="19.6" fill="#2962ff"/>
<rect x="2260" y="1479" width="2" height="41" fill="#0c8a76"/>
<rect x="2256" y="1494" width="10" height="12" fill="#0c8a76"/>
<rect x="2258.3" y="1495.7" width="5.4" height="8.6" fill="#2962ff"/>
<rect x="2273" y="1407" width="2" height="93" fill="#0c8a76"/>
<rect x="2269" y="1433" width="10" height="61" fill="#0c8a76"/>
<rect x="2271.3" y="1434.7" width="5.4" height="57.6" fill="#2962ff"/>
<rect x="2287" y="1432" width="2" height="79" fill="#c23b4a"/>
<rect x="2283" y="1433" width="10" height="44" fill="#de394a"/>
<rect x="2284.5" y="1434.5" width="7" height="41" fill="#f23645"/>
<rect x="2300" y="1463" width="2" height="41" fill="#c23b4a"/>
<rect x="2296" y="1474.7" width="10" height="2.5" fill="#de394a"/>
<rect x="2314" y="1357" width="2" height="125" fill="#0c8a76"/>
<rect x="2310" y="1374" width="10" height="103" fill="#0c8a76"/>
<rect x="2312.3" y="1375.7" width="5.4" height="99.6" fill="#2962ff"/>
<rect x="2327" y="1349" width="2" height="73" fill="#0c8a76"/>
<rect x="2323" y="1367" width="10" height="8" fill="#0c8a76"/>
<rect x="2325.3" y="1368.7" width="5.4" height="4.6" fill="#2962ff"/>
<rect x="2341" y="1248" width="2" height="129" fill="#0c8a76"/>
<rect x="2337" y="1343" width="10" height="24" fill="#0c8a76"/>
<rect x="2339.3" y="1344.7" width="5.4" height="20.6" fill="#2962ff"/>
<rect x="2354" y="851" width="2" height="503" fill="#0c8a76"/>
<rect x="2350" y="921" width="10" height="422" fill="#0c8a76"/>
<rect x="2352.3" y="922.7" width="5.4" height="418.6" fill="#2962ff"/>
<rect x="2368" y="382" width="2" height="557" fill="#0c8a76"/>
<rect x="2364" y="624" width="10" height="297" fill="#0c8a76"/>
<rect x="2366.3" y="625.7" width="5.4" height="293.6" fill="#2962ff"/>
<rect x="2381" y="245" width="2" height="410" fill="#0c8a76"/>
<rect x="2377" y="411" width="10" height="212" fill="#0c8a76"/>
<rect x="2379.3" y="412.7" width="5.4" height="208.6" fill="#2962ff"/>
<rect x="2395" y="347" width="2" height="285" fill="#0c8a76"/>
<rect x="2391" y="378" width="10" height="34" fill="#0c8a76"/>
<rect x="2393.3" y="379.7" width="5.4" height="30.6" fill="#2962ff"/>
<rect x="2408" y="231" width="2" height="322" fill="#0c8a76"/>
<rect x="2404" y="291" width="10" height="88" fill="#0c8a76"/>
<rect x="2406.3" y="292.7" width="5.4" height="84.6" fill="#2962ff"/>
<rect x="2422" y="287" width="2" height="343" fill="#c23b4a"/>
<rect x="2418" y="290" width="10" height="202" fill="#de394a"/>
<rect x="2419.5" y="291.5" width="7" height="199" fill="#f23645"/>
<rect x="2435" y="464" width="2" height="512" fill="#c23b4a"/>
<rect x="2431" y="492" width="10" height="314" fill="#de394a"/>
<rect x="2432.5" y="493.5" width="7" height="311" fill="#f23645"/>
<rect x="2449" y="707" width="2" height="131" fill="#0c8a76"/>
<rect x="2445" y="802" width="10" height="4" fill="#0c8a76"/>
<rect x="2462" y="518" width="2" height="310" fill="#0c8a76"/>
<rect x="2458" y="573" width="10" height="228" fill="#0c8a76"/>
<rect x="2460.3" y="574.7" width="5.4" height="224.6" fill="#2962ff"/>
<rect x="2476" y="519" width="2" height="281" fill="#c23b4a"/>
<rect x="2472" y="573" width="10" height="156" fill="#de394a"/>
<rect x="2473.5" y="574.5" width="7" height="153" fill="#f23645"/>
<rect x="2489" y="399" width="2" height="414" fill="#0c8a76"/>
<rect x="2485" y="654" width="10" height="74" fill="#0c8a76"/>
<rect x="2487.3" y="655.7" width="5.4" height="70.6" fill="#2962ff"/>
<rect x="2503" y="508" width="2" height="223" fill="#c23b4a"/>
<rect x="2499" y="654" width="10" height="74" fill="#de394a"/>
<rect x="2500.5" y="655.5" width="7" height="71" fill="#f23645"/>
<rect x="2516" y="708" width="2" height="306" fill="#c23b4a"/>
<rect x="2512" y="728" width="10" height="226" fill="#de394a"/>
<rect x="2513.5" y="729.5" width="7" height="223" fill="#f23645"/>
<rect x="2530" y="870" width="2" height="307" fill="#c23b4a"/>
<rect x="2526" y="954" width="10" height="64" fill="#de394a"/>
<rect x="2527.5" y="955.5" width="7" height="61" fill="#f23645"/>
<rect x="2543" y="891" width="2" height="151" fill="#0c8a76"/>
<rect x="2539" y="962" width="10" height="56" fill="#0c8a76"/>
<rect x="2541.3" y="963.7" width="5.4" height="52.6" fill="#2962ff"/>
<rect x="2557" y="951" width="2" height="115" fill="#c23b4a"/>
<rect x="2553" y="962" width="10" height="77" fill="#de394a"/>
<rect x="2554.5" y="963.5" width="7" height="74" fill="#f23645"/>
<rect x="2570" y="1033" width="2" height="210" fill="#c23b4a"/>
<rect x="2566" y="1038" width="10" height="12" fill="#de394a"/>
<rect x="2567.5" y="1039.5" width="7" height="9" fill="#f23645"/>
<rect x="2584" y="1045" width="2" height="251" fill="#c23b4a"/>
<rect x="2580" y="1049" width="10" height="239" fill="#de394a"/>
<rect x="2581.5" y="1050.5" width="7" height="236" fill="#f23645"/>
<rect x="2597" y="1244" width="2" height="129" fill="#0c8a76"/>
<rect x="2593" y="1285.7" width="10" height="2.5" fill="#0c8a76"/>
<rect x="2611" y="1250" width="2" height="55" fill="#0c8a76"/>
<rect x="2607" y="1272" width="10" height="16" fill="#0c8a76"/>
<rect x="2609.3" y="1273.7" width="5.4" height="12.6" fill="#2962ff"/>
<rect x="2624" y="1161" width="2" height="138" fill="#c23b4a"/>
<rect x="2620" y="1272" width="10" height="21" fill="#de394a"/>
<rect x="2621.5" y="1273.5" width="7" height="18" fill="#f23645"/>
<rect x="2638" y="1247" width="2" height="115" fill="#c23b4a"/>
<rect x="2634" y="1292" width="10" height="58" fill="#de394a"/>
<rect x="2635.5" y="1293.5" width="7" height="55" fill="#f23645"/>
<rect x="2651" y="1283" width="2" height="131" fill="#0c8a76"/>
<rect x="2647" y="1306" width="10" height="44" fill="#0c8a76"/>
<rect x="2649.3" y="1307.7" width="5.4" height="40.6" fill="#2962ff"/>
<rect x="2665" y="1282" width="2" height="65" fill="#c23b4a"/>
<rect x="2661" y="1306" width="10" height="25" fill="#de394a"/>
<rect x="2662.5" y="1307.5" width="7" height="22" fill="#f23645"/>
<rect x="2678" y="1204" width="2" height="126" fill="#0c8a76"/>
<rect x="2674" y="1249" width="10" height="81" fill="#0c8a76"/>
<rect x="2676.3" y="1250.7" width="5.4" height="77.6" fill="#2962ff"/>
<rect x="2691" y="1232" width="2" height="60" fill="#c23b4a"/>
<rect x="2687" y="1249" width="10" height="31" fill="#de394a"/>
<rect x="2688.5" y="1250.5" width="7" height="28" fill="#f23645"/>
<rect x="2705" y="982" width="2" height="318" fill="#0c8a76"/>
<rect x="2701" y="1075" width="10" height="205" fill="#0c8a76"/>
<rect x="2703.3" y="1076.7" width="5.4" height="201.6" fill="#2962ff"/>
<rect x="2718" y="1003" width="2" height="142" fill="#0c8a76"/>
<rect x="2714" y="1070" width="10" height="5" fill="#0c8a76"/>
<rect x="2716.3" y="1071.5" width="5.4" height="2" fill="#2962ff"/>
<rect x="2732" y="999" width="2" height="135" fill="#c23b4a"/>
<rect x="2728" y="1070" width="10" height="28" fill="#de394a"/>
<rect x="2729.5" y="1071.5" width="7" height="25" fill="#f23645"/>
<rect x="2745" y="1073" width="2" height="156" fill="#c23b4a"/>
<rect x="2741" y="1097" width="10" height="106" fill="#de394a"/>
<rect x="2742.5" y="1098.5" width="7" height="103" fill="#f23645"/>
<rect x="2759" y="1178" width="2" height="109" fill="#c23b4a"/>
<rect x="2755" y="1202" width="10" height="32" fill="#de394a"/>
<rect x="2756.5" y="1203.5" width="7" height="29" fill="#f23645"/>
<rect x="2772" y="1159" width="2" height="122" fill="#c23b4a"/>
<rect x="2768" y="1233" width="10" height="30" fill="#de394a"/>
<rect x="2769.5" y="1234.5" width="7" height="27" fill="#f23645"/>
<rect x="2786" y="1243" width="2" height="130" fill="#c23b4a"/>
<rect x="2782" y="1262" width="10" height="81" fill="#de394a"/>
<rect x="2783.5" y="1263.5" width="7" height="78" fill="#f23645"/>
<rect x="2799" y="1281" width="2" height="70" fill="#0c8a76"/>
<rect x="2795" y="1283" width="10" height="60" fill="#0c8a76"/>
<rect x="2797.3" y="1284.7" width="5.4" height="56.6" fill="#2962ff"/>
<rect x="2813" y="1263" width="2" height="63" fill="#0c8a76"/>
<rect x="2809" y="1274" width="10" height="9" fill="#0c8a76"/>
<rect x="2811.3" y="1275.7" width="5.4" height="5.6" fill="#2962ff"/>
<rect x="2826" y="1135" width="2" height="160" fill="#0c8a76"/>
<rect x="2822" y="1185" width="10" height="89" fill="#0c8a76"/>
<rect x="2824.3" y="1186.7" width="5.4" height="85.6" fill="#2962ff"/>
<rect x="2840" y="919" width="2" height="300" fill="#0c8a76"/>
<rect x="2836" y="934" width="10" height="251" fill="#0c8a76"/>
<rect x="2838.3" y="935.7" width="5.4" height="247.6" fill="#2962ff"/>
<rect x="2853" y="888" width="2" height="223" fill="#c23b4a"/>
<rect x="2849" y="934" width="10" height="111" fill="#de394a"/>
<rect x="2850.5" y="935.5" width="7" height="108" fill="#f23645"/>
<rect x="2867" y="1019" width="2" height="200" fill="#c23b4a"/>
<rect x="2863" y="1045" width="10" height="141" fill="#de394a"/>
<rect x="2864.5" y="1046.5" width="7" height="138" fill="#f23645"/>
<rect x="2880" y="1025" width="2" height="170" fill="#0c8a76"/>
<rect x="2876" y="1068" width="10" height="118" fill="#0c8a76"/>
<rect x="2878.3" y="1069.7" width="5.4" height="114.6" fill="#2962ff"/>
<rect x="2894" y="995" width="2" height="127" fill="#0c8a76"/>
<rect x="2890" y="1065" width="10" height="3" fill="#0c8a76"/>
<rect x="2907" y="1031" width="2" height="124" fill="#c23b4a"/>
<rect x="2903" y="1065" width="10" height="11" fill="#de394a"/>
<rect x="2904.5" y="1066.5" width="7" height="8" fill="#f23645"/>
<rect x="2921" y="1066" width="2" height="95" fill="#c23b4a"/>
<rect x="2917" y="1075" width="10" height="61" fill="#de394a"/>
<rect x="2918.5" y="1076.5" width="7" height="58" fill="#f23645"/>
<rect x="2934" y="1083" width="2" height="82" fill="#0c8a76"/>
<rect x="2930" y="1085" width="10" height="51" fill="#0c8a76"/>
<rect x="2932.3" y="1086.7" width="5.4" height="47.6" fill="#2962ff"/>
<rect x="2948" y="822" width="2" height="270" fill="#0c8a76"/>
<rect x="2944" y="920" width="10" height="165" fill="#0c8a76"/>
<rect x="2946.3" y="921.7" width="5.4" height="161.6" fill="#2962ff"/>
<rect x="2961" y="884" width="2" height="106" fill="#c23b4a"/>
<rect x="2957" y="920" width="10" height="58" fill="#de394a"/>
<rect x="2958.5" y="921.5" width="7" height="55" fill="#f23645"/>
<rect x="2975" y="973" width="2" height="138" fill="#c23b4a"/>
<rect x="2971" y="978" width="10" height="78" fill="#de394a"/>
<rect x="2972.5" y="979.5" width="7" height="75" fill="#f23645"/>
<rect x="2988" y="962" width="2" height="130" fill="#0c8a76"/>
<rect x="2984" y="1004" width="10" height="52" fill="#0c8a76"/>
<rect x="2986.3" y="1005.7" width="5.4" height="48.6" fill="#2962ff"/>
<rect x="3002" y="945" width="2" height="401" fill="#c23b4a"/>
<rect x="2998" y="1004" width="10" height="152" fill="#de394a"/>
<rect x="2999.5" y="1005.5" width="7" height="149" fill="#f23645"/>
<rect x="3015" y="1119" width="2" height="142" fill="#c23b4a"/>
<rect x="3011" y="1156" width="10" height="41" fill="#de394a"/>
<rect x="3012.5" y="1157.5" width="7" height="38" fill="#f23645"/>
<rect x="3029" y="1156" width="2" height="74" fill="#0c8a76"/>
<rect x="3025" y="1161" width="10" height="36" fill="#0c8a76"/>
<rect x="3027.3" y="1162.7" width="5.4" height="32.6" fill="#2962ff"/>
<rect x="3042" y="1149" width="2" height="111" fill="#c23b4a"/>
<rect x="3038" y="1161" width="10" height="65" fill="#de394a"/>
<rect x="3039.5" y="1162.5" width="7" height="62" fill="#f23645"/>
<rect x="3056" y="1225" width="2" height="116" fill="#c23b4a"/>
<rect x="3052" y="1226" width="10" height="25" fill="#de394a"/>
<rect x="3053.5" y="1227.5" width="7" height="22" fill="#f23645"/>
<rect x="3069" y="1227" width="2" height="109" fill="#c23b4a"/>
<rect x="3065" y="1250" width="10" height="70" fill="#de394a"/>
<rect x="3066.5" y="1251.5" width="7" height="67" fill="#f23645"/>
<rect x="3083" y="1298" width="2" height="106" fill="#c23b4a"/>
<rect x="3079" y="1319" width="10" height="54" fill="#de394a"/>
<rect x="3080.5" y="1320.5" width="7" height="51" fill="#f23645"/>
</g>
<rect x="0" y="600" width="20" height="1200" fill="#ffffff"/>
<rect x="19.2" y="600" width="1.6" height="1200" fill="#f4f5f7"/>
<g stroke="#000000" stroke-width="4" fill="none" stroke-linecap="round">
<line x1="2828" y1="1374.2" x2="2881" y2="1374.2"/>
<line x1="2854.2" y1="1374.2" x2="2854.2" y2="1510.2" stroke-linecap="butt"/>
<line x1="2828" y1="1510.2" x2="2881" y2="1510.2"/>
<polyline points="2834.3,1490.3 2854.2,1509 2874,1490.3" stroke-linejoin="miter"/>
</g>
<line x1="20" y1="1373" x2="3366" y2="1373" stroke="#b52a38" stroke-width="2" stroke-dasharray="2 4"/>
<line x1="2827" y1="822" x2="3366" y2="822" stroke="#9f27b2" stroke-width="4"/><circle cx="2827" cy="822" r="2" fill="#9f27b2"/>
<line x1="2571" y1="1373" x2="3366" y2="1373" stroke="#8a22ae" stroke-width="2.3"/>
<line x1="2570" y1="1373" x2="3366" y2="1373" stroke="#c8303c" stroke-width="2" stroke-dasharray="2 4"/>
<path d="M3368 799H3524a4 4 0 0 1 4 4V840.7a4 4 0 0 1 -4 4H3368Z" fill="#9f27b2"/>
<text x="3388.50" y="833.3" font-size="33.5" fill="#ffffff" stroke="#9f27b2" stroke-width="0.35" letter-spacing="0.673">0.30756</text>
<path d="M3368 1350H3524a4 4 0 0 1 4 4V1391.6a4 4 0 0 1 -4 4H3368Z" fill="#9f27b2"/>
<text x="3388.50" y="1384.6" font-size="33.5" fill="#ffffff" stroke="#9f27b2" stroke-width="0.35" letter-spacing="0.673">0.14230</text>
<text x="2688.10" y="1564.3" font-size="24" fill="#131722" stroke="#131722" stroke-width="0.35" letter-spacing="1.497">−0.04078</text>
<text x="2809.20" y="1564.3" font-size="24" fill="#131722" stroke="#131722" stroke-width="0.35" letter-spacing="0.962">(−28.71%)</text>
<text x="2937.80" y="1564.3" font-size="24" fill="#131722" stroke="#131722" stroke-width="0.35" letter-spacing="1.455">−4,078</text>
<g fill="#131313">
<path d="M24 1944.2H47.8V1973.8H35.8V1956H24Z"/>
<circle cx="57.8" cy="1949.9" r="5.8"/>
<path d="M66.4 1944.2H83.8L72.2 1973.8H58.6Z"/>
</g>
<text x="98.00" y="1973.8" font-size="41" fill="#131313" font-weight="bold" letter-spacing="0.104">TradingView</text>
</svg>
</body></html>
